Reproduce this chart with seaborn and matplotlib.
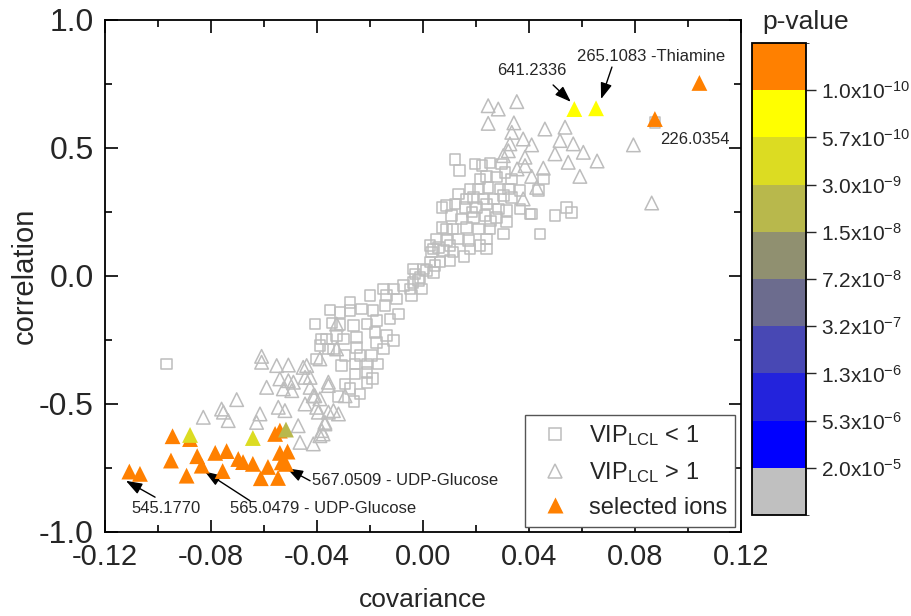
import numpy as np
import pandas as pd
import matplotlib
matplotlib.use("Agg")
import matplotlib.pyplot as plt
import seaborn as sns
from matplotlib.colors import ListedColormap, BoundaryNorm
from matplotlib.lines import Line2D
import matplotlib.cm as cm

sns.set_style("ticks")
plt.rcParams["font.family"] = ["Liberation Sans", "DejaVu Sans"]
plt.rcParams["mathtext.fontset"] = "custom"
plt.rcParams["mathtext.rm"] = "Liberation Sans"
plt.rcParams["mathtext.it"] = "Liberation Sans:italic"
plt.rcParams["mathtext.bf"] = "Liberation Sans:bold"

# ---------------- data ----------------
# VIP_LCL < 1 (open squares)
sq_cov = [0.0121, 0.0137, 0.0196, 0.0222, 0.0253, 0.0297, 0.0240, 0.0278, 0.0309, 0.0335,
          0.0215, 0.0177, 0.0209, 0.0246, 0.0291, 0.0322, 0.0366, 0.0133, 0.0165, 0.0190,
          0.0228, 0.0265, 0.0303, 0.0335, 0.0089, 0.0121, 0.0158, 0.0203, 0.0240, 0.0284,
          0.0316, 0.0366, 0.0410, 0.0454, 0.0435, 0.0108, 0.0146, 0.0190, 0.0234, 0.0278,
          0.0316, 0.0071, 0.0114, 0.0165, 0.0209, 0.0253, 0.0303, 0.0052, 0.0089, 0.0133,
          0.0171, 0.0240, 0.0039, 0.0077, 0.0114, 0.0177, 0.0240, 0.0026, 0.0064, 0.0102,
          0.0014, 0.0045, 0.0442, 0.0498, 0.0542, 0.0561, 0.0404, 0.0875,
          0.0071, 0.0089, 0.0058, -0.0011, -0.0037, -0.0074, -0.0112, -0.0150, -0.0137, 0.0026,
          0.0102, 0.0001, 0.0039, -0.0018, -0.0049, -0.0030, -0.0037, 0.0033, 0.0185, 0.0255,
          0.0215, 0.0155,
          -0.0200, -0.0275, -0.0351, -0.0408, -0.0363, -0.0275, -0.0231, -0.0188, -0.0143, -0.0099,
          -0.0043, -0.0005, -0.0263, -0.0212, -0.0175, -0.0125, -0.0093, -0.0181, -0.0137, -0.0112,
          -0.0301, -0.0250, -0.0338, -0.0294, -0.0238, -0.0194, -0.0150, -0.0307, -0.0257, -0.0212,
          -0.0169, -0.0257, -0.0212, -0.0294, -0.0212, -0.0238, -0.0382, -0.0357, -0.0313, -0.0326,
          -0.0389, -0.0401, -0.0344, -0.0313, -0.0175, -0.0250, -0.0275, -0.0260, -0.0320, -0.0190,
          -0.0967]
sq_corr = [0.454, 0.411, 0.438, 0.431, 0.441, 0.438, 0.389, 0.386, 0.405, 0.379,
           0.379, 0.340, 0.340, 0.346, 0.340, 0.340, 0.333, 0.320, 0.301, 0.307,
           0.301, 0.301, 0.314, 0.307, 0.275, 0.281, 0.268, 0.268, 0.281, 0.262,
           0.255, 0.262, 0.242, 0.379, 0.333, 0.236, 0.223, 0.229, 0.236, 0.229,
           0.210, 0.190, 0.184, 0.190, 0.184, 0.184, 0.164, 0.145, 0.138, 0.145,
           0.138, 0.145, 0.105, 0.099, 0.093, 0.105, 0.105, 0.054, 0.054, 0.060,
           0.021, 0.040, 0.164, 0.236, 0.268, 0.249, 0.242, 0.600,
           0.268, 0.184, 0.112, -0.005, -0.025, -0.038, -0.051, -0.051, -0.077, 0.118,
           0.118, 0.027, 0.014, -0.018, -0.051, 0.008, 0.027, 0.093, 0.250, 0.215,
           0.120, 0.075,
           -0.077, -0.103, -0.133, -0.188, -0.246, -0.135, -0.129, -0.135, -0.116, -0.090,
           -0.077, -0.051, -0.194, -0.188, -0.175, -0.168, -0.148, -0.220, -0.233, -0.253,
           -0.246, -0.240, -0.285, -0.311, -0.311, -0.311, -0.285, -0.350, -0.344, -0.344,
           -0.344, -0.383, -0.376, -0.422, -0.415, -0.461, -0.246, -0.285, -0.142, -0.233,
           -0.272, -0.324, -0.184, -0.190, -0.260, -0.280, -0.440, -0.490, -0.470, -0.400,
           -0.344]

# VIP_LCL > 1 (open triangles)
tri_cov = [0.0246, 0.0284, 0.0354, 0.0246, 0.0343, 0.0335, 0.0378, 0.0410, 0.0460, 0.0536,
           0.0517, 0.0567, 0.0605, 0.0498, 0.0548, 0.0592, 0.0322, 0.0303, 0.0385, 0.0385,
           0.0454, 0.0410, 0.0429, 0.0378, 0.0657, 0.0794, 0.0863, 0.0328, 0.0355,
           -0.0326, -0.0389, -0.0439, -0.0445, -0.0426, -0.0357, -0.0408, -0.0445, -0.0395, -0.0338,
           -0.0319, -0.0382, -0.0326, -0.0294, -0.0370, -0.0609, -0.0609, -0.0552, -0.0508, -0.0540,
           -0.0508, -0.0489, -0.0590, -0.0527, -0.0495, -0.0452, -0.0426, -0.0414, -0.0389, -0.0357,
           -0.0703, -0.0760, -0.0753, -0.0735, -0.0829, -0.0615, -0.0628, -0.0546, -0.0521, -0.0471,
           -0.0401, -0.0414, -0.0464, -0.0389, -0.0357, -0.0370, -0.0377]
tri_corr = [0.665, 0.652, 0.681, 0.596, 0.598, 0.561, 0.535, 0.512, 0.574, 0.581,
            0.529, 0.516, 0.483, 0.477, 0.444, 0.389, 0.489, 0.470, 0.464, 0.431,
            0.421, 0.389, 0.346, 0.301, 0.449, 0.512, 0.285, 0.516, 0.418,
            -0.188, -0.324, -0.350, -0.396, -0.435, -0.428, -0.468, -0.500, -0.532, -0.526,
            -0.539, -0.604, -0.285, -0.468, -0.578, -0.314, -0.337, -0.350, -0.348, -0.402,
            -0.409, -0.415, -0.435, -0.441, -0.448, -0.357, -0.396, -0.468, -0.480, -0.415,
            -0.483, -0.520, -0.532, -0.565, -0.552, -0.539, -0.572, -0.513, -0.526, -0.585,
            -0.513, -0.656, -0.650, -0.624, -0.532, -0.572, -0.617]

# selected ions (filled triangles coloured by p-value)
sel_cov = [-0.1108, -0.1068, -0.0945, -0.0879, -0.0879, -0.0951, -0.0892, -0.0852, -0.0835, -0.0784,
           -0.0741, -0.0756, -0.0697, -0.0679, -0.0642, -0.0612, -0.0585, -0.0547, -0.0642, -0.0558,
           -0.0540, -0.0517, -0.0540, -0.0511, -0.0533, -0.0517,
           0.0571, 0.0653, 0.0875, 0.1043]
sel_corr = [-0.764, -0.773, -0.626, -0.637, -0.621, -0.721, -0.780, -0.704, -0.741, -0.691,
            -0.684, -0.762, -0.715, -0.727, -0.734, -0.790, -0.746, -0.789, -0.633, -0.617,
            -0.604, -0.600, -0.691, -0.686, -0.728, -0.734,
            0.652, 0.655, 0.613, 0.754]
sel_p = [5e-11, 5e-11, 5e-11, 5e-11, 1.5e-9, 5e-11, 5e-11, 5e-11, 5e-11, 5e-11,
         5e-11, 5e-11, 5e-11, 5e-11, 5e-11, 5e-11, 5e-11, 5e-11, 1.2e-9, 5e-11,
         5e-11, 8e-9, 5e-11, 5e-11, 5e-11, 5e-11,
         3e-10, 2e-10, 5e-11, 5e-11]

# colour scale (p-value classes)
pv_ticks = [2.0e-5, 5.3e-6, 1.3e-6, 3.2e-7, 7.2e-8, 1.5e-8, 3.0e-9, 5.7e-10, 1.0e-10]
pv_labels = ["2.0x10$^{-5}$", "5.3x10$^{-6}$", "1.3x10$^{-6}$", "3.2x10$^{-7}$",
             "7.2x10$^{-8}$", "1.5x10$^{-8}$", "3.0x10$^{-9}$", "5.7x10$^{-10}$",
             "1.0x10$^{-10}$"]
pv_colors = ["#C0C0C0", "#0000FF", "#2323DC", "#4848B4", "#6C6C8E",
             "#909070", "#B8B84C", "#DCDC22", "#FFFF00", "#FF8000"]

GRAY = "#BDBDBD"

# ---------------- figure ----------------
fig = plt.figure(figsize=(9.12, 6.16), dpi=100)
ax = fig.add_axes([0.1151, 0.1364, 0.6974, 0.8312])
cax = fig.add_axes([0.8246, 0.164, 0.0592, 0.766])

inner = -np.log10(np.array(pv_ticks))
bounds = np.concatenate([[inner[0] - 0.6], inner, [inner[-1] + 0.6]])
cmap = ListedColormap(pv_colors)
norm = BoundaryNorm(bounds, cmap.N)

sns.scatterplot(x=sq_cov, y=sq_corr, marker="s", s=58, facecolor="none",
                edgecolor=GRAY, linewidth=1.1, ax=ax, legend=False, zorder=2)
sns.scatterplot(x=tri_cov, y=tri_corr, marker="^", s=95, facecolor="none",
                edgecolor=GRAY, linewidth=1.1, ax=ax, legend=False, zorder=3)

sel = pd.DataFrame({"cov": sel_cov, "corr": sel_corr,
                    "nlogp": -np.log10(np.array(sel_p))})
sns.scatterplot(data=sel, x="cov", y="corr", hue="nlogp", palette=cmap,
                hue_norm=norm, marker="^", s=130, edgecolor="none", linewidth=0,
                ax=ax, legend=False, zorder=4)

ax.set_xlim(-0.12, 0.12)
ax.set_ylim(-1.0, 1.0)
ax.set_xticks(np.arange(-0.12, 0.121, 0.04))
ax.set_xticks(np.arange(-0.10, 0.11, 0.04), minor=True)
ax.set_yticks([-1.0, -0.5, 0.0, 0.5, 1.0])
ax.set_yticks([-0.75, -0.25, 0.25, 0.75], minor=True)
ax.set_xticklabels(["-0.12", "-0.08", "-0.04", "0.00", "0.04", "0.08", "0.12"])
ax.set_yticklabels(["-1.0", "-0.5", "0.0", "0.5", "1.0"])
ax.tick_params(which="both", direction="in", top=True, right=True, width=1.2,
               color="black")
ax.tick_params(which="major", length=9)
ax.tick_params(which="minor", length=5)
ax.tick_params(axis="x", labelsize=21, pad=8)
ax.tick_params(axis="y", labelsize=23, pad=8)
for sp in ax.spines.values():
    sp.set_linewidth(1.3)
    sp.set_color("black")
ax.set_xlabel("covariance", fontsize=19, labelpad=12)
ax.set_ylabel("correlation", fontsize=21, labelpad=0)

# annotations
afs = 12
arrow = dict(arrowstyle="-|>,head_length=0.7,head_width=0.25", color="black",
             lw=1.0, shrinkA=0, shrinkB=0, mutation_scale=14)
ax.text(0.0411, 0.801, "641.2336", fontsize=afs, ha="center", va="center")
ax.annotate("", xy=(0.0558, 0.680), xytext=(0.0491, 0.746), arrowprops=arrow)
ax.text(0.0860, 0.859, "265.1083 -Thiamine", fontsize=afs, ha="center", va="center")
ax.annotate("", xy=(0.0672, 0.691), xytext=(0.0713, 0.816), arrowprops=arrow)
ax.text(0.1026, 0.535, "226.0354", fontsize=afs, ha="center", va="center")
ax.text(-0.0970, -0.910, "545.1770", fontsize=afs, ha="center", va="center")
ax.annotate("", xy=(-0.1121, -0.800), xytext=(-0.1011, -0.864), arrowprops=arrow)
ax.text(-0.0376, -0.910, "565.0479 - UDP-Glucose", fontsize=afs, ha="center", va="center")
ax.annotate("", xy=(-0.0823, -0.764), xytext=(-0.0653, -0.878), arrowprops=arrow)
ax.text(-0.0418, -0.800, "567.0509 - UDP-Glucose", fontsize=afs, ha="left", va="center")
ax.annotate("", xy=(-0.0514, -0.751), xytext=(-0.0426, -0.800), arrowprops=arrow)

# legend
handles = [
    Line2D([], [], ls="none", marker="s", ms=8, mfc="none", mec=GRAY, mew=1.1),
    Line2D([], [], ls="none", marker="^", ms=10, mfc="none", mec=GRAY, mew=1.1),
    Line2D([], [], ls="none", marker="^", ms=11, mfc="#FF8000", mec="none"),
]
labels = [r"VIP$_{\mathrm{LCL}}$ < 1", r"VIP$_{\mathrm{LCL}}$ > 1", "selected ions"]
leg = ax.legend(handles, labels, loc="lower right", bbox_to_anchor=(0.991, 0.01),
                borderaxespad=0, fontsize=17, frameon=True, fancybox=False,
                framealpha=1, edgecolor="#555555", handlelength=1.85,
                handletextpad=0.5, labelspacing=0.5, borderpad=0.35)
leg.get_frame().set_linewidth(1.0)

# colorbar
sm = cm.ScalarMappable(norm=norm, cmap=cmap)
cb = fig.colorbar(sm, cax=cax, boundaries=bounds, spacing="uniform", ticks=inner)
cb.ax.set_yticklabels(pv_labels)
cb.outline.set_linewidth(1.3)
cb.outline.set_edgecolor("black")
cax.tick_params(direction="out", length=7, width=1.0, labelsize=15, pad=4)
fig.text(806 / 912, 1 - 22 / 616, "p-value", fontsize=19, ha="center", va="center")

fig.savefig("out.png", dpi=100)
